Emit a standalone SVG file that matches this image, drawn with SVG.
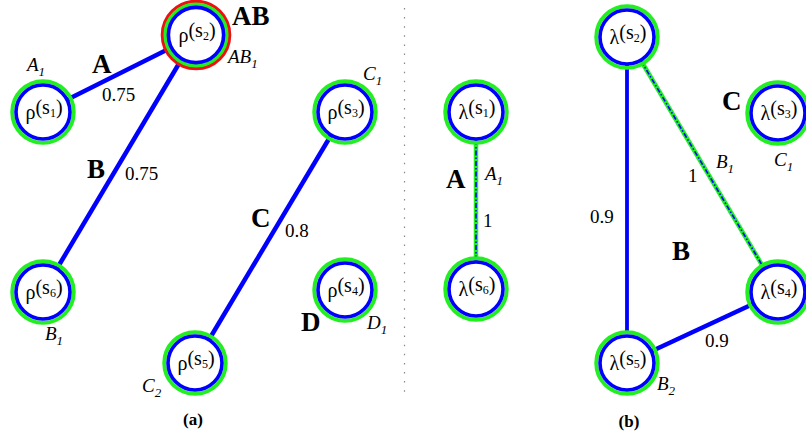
<svg xmlns="http://www.w3.org/2000/svg" width="806" height="437" viewBox="0 0 806 437">
<style>
text{font-family:"Liberation Serif","Times New Roman",serif;fill:#000}
.nt{font-size:20px;text-anchor:middle}
.sub{font-size:12px}
.lb{font-size:27px;font-weight:bold}
.it{font-size:19px;font-style:italic}
.it .sub{font-size:13px}
.num{font-size:19px}
.cap{font-size:17px;font-weight:bold;text-anchor:middle}
.ring-b{fill:#fff;stroke:#0000ff;stroke-width:3.6}
.ring-g{fill:none;stroke:#22ee22;stroke-width:3.9}
.ring-r{fill:none;stroke:#ee1111;stroke-width:3.4}
.e{stroke:#0000ff;stroke-width:4.5;stroke-linecap:butt;fill:none}
.eg{stroke:#22ee22;stroke-width:4.5;fill:none}
.ed{stroke:#0000ff;stroke-width:1.6;stroke-dasharray:5 2 1.5 2;fill:none}
</style>
<line x1="404.5" y1="8" x2="404.5" y2="398" stroke="#888" stroke-width="1.2" stroke-dasharray="1.5 7.6"/>
<g id="connectors">
<line class="e" x1="68" y1="99.3" x2="171" y2="47.7"/>
<line class="e" x1="181.7" y1="59" x2="57.3" y2="268"/>
<line class="e" x1="330.6" y1="136" x2="209.4" y2="339"/>
<line class="eg" x1="476" y1="140" x2="476" y2="261"/>
<line class="ed" x1="476" y1="140" x2="476" y2="261"/>
<line class="eg" x1="641.2" y1="61" x2="763.8" y2="268"/>
<line class="ed" x1="641.2" y1="61" x2="763.8" y2="268"/>
<line class="e" style="stroke-width:3.8" x1="627" y1="65" x2="627" y2="331"/>
<line class="e" x1="652" y1="351" x2="753" y2="304"/>
</g>
<g id="rho1"><circle class="ring-g" cx="43" cy="112" r="30.8"/><circle class="ring-b" cx="43" cy="112" r="27"/>
<text class="nt" x="44" y="119">ρ<tspan dy="-5">(s</tspan><tspan class="sub" dy="3">1</tspan><tspan dy="-3">)</tspan></text></g>
<g id="rho2"><circle class="ring-r" cx="196" cy="35" r="33.6"/><circle class="ring-g" cx="196" cy="35" r="30.6"/><circle class="ring-b" cx="196" cy="35" r="27.6"/>
<text class="nt" x="197" y="42">ρ<tspan dy="-5">(s</tspan><tspan class="sub" dy="3">2</tspan><tspan dy="-3">)</tspan></text></g>
<g id="rho3"><circle class="ring-g" cx="345" cy="112" r="30.8"/><circle class="ring-b" cx="345" cy="112" r="27"/>
<text class="nt" x="346" y="119">ρ<tspan dy="-5">(s</tspan><tspan class="sub" dy="3">3</tspan><tspan dy="-3">)</tspan></text></g>
<g id="rho4"><circle class="ring-g" cx="345" cy="290" r="30.8"/><circle class="ring-b" cx="345" cy="290" r="27"/>
<text class="nt" x="346" y="297">ρ<tspan dy="-5">(s</tspan><tspan class="sub" dy="3">4</tspan><tspan dy="-3">)</tspan></text></g>
<g id="rho5"><circle class="ring-g" cx="195" cy="363" r="30.8"/><circle class="ring-b" cx="195" cy="363" r="27"/>
<text class="nt" x="196" y="370">ρ<tspan dy="-5">(s</tspan><tspan class="sub" dy="3">5</tspan><tspan dy="-3">)</tspan></text></g>
<g id="rho6"><circle class="ring-g" cx="43" cy="292" r="30.8"/><circle class="ring-b" cx="43" cy="292" r="27"/>
<text class="nt" x="44" y="299">ρ<tspan dy="-5">(s</tspan><tspan class="sub" dy="3">6</tspan><tspan dy="-3">)</tspan></text></g>
<g id="lam1"><circle class="ring-g" cx="476" cy="112" r="30.8"/><circle class="ring-b" cx="476" cy="112" r="27"/>
<text class="nt" x="477" y="119">λ<tspan dy="-5">(s</tspan><tspan class="sub" dy="3">1</tspan><tspan dy="-3">)</tspan></text></g>
<g id="lam2"><circle class="ring-g" cx="627" cy="37" r="30.8"/><circle class="ring-b" cx="627" cy="37" r="27"/>
<text class="nt" x="628" y="44">λ<tspan dy="-5">(s</tspan><tspan class="sub" dy="3">2</tspan><tspan dy="-3">)</tspan></text></g>
<g id="lam3"><circle class="ring-g" cx="778" cy="113" r="30.8"/><circle class="ring-b" cx="778" cy="113" r="27"/>
<text class="nt" x="779" y="120">λ<tspan dy="-5">(s</tspan><tspan class="sub" dy="3">3</tspan><tspan dy="-3">)</tspan></text></g>
<g id="lam4"><circle class="ring-g" cx="778" cy="292" r="30.8"/><circle class="ring-b" cx="778" cy="292" r="27"/>
<text class="nt" x="779" y="299">λ<tspan dy="-5">(s</tspan><tspan class="sub" dy="3">4</tspan><tspan dy="-3">)</tspan></text></g>
<g id="lam5"><circle class="ring-g" cx="627" cy="363" r="30.8"/><circle class="ring-b" cx="627" cy="363" r="27"/>
<text class="nt" x="628" y="370">λ<tspan dy="-5">(s</tspan><tspan class="sub" dy="3">5</tspan><tspan dy="-3">)</tspan></text></g>
<g id="lam6"><circle class="ring-g" cx="476" cy="289" r="30.8"/><circle class="ring-b" cx="476" cy="289" r="27"/>
<text class="nt" x="477" y="296">λ<tspan dy="-5">(s</tspan><tspan class="sub" dy="3">6</tspan><tspan dy="-3">)</tspan></text></g>
<g id="labels">
<text class="lb" x="92" y="73">A</text>
<text class="it" x="27" y="71">A<tspan class="sub" dy="5">1</tspan></text>
<text class="num" x="102" y="101">0.75</text>
<text class="lb" x="87" y="178">B</text>
<text class="num" x="125" y="180">0.75</text>
<text class="lb" x="232" y="25">AB</text>
<text class="it" x="228" y="63">AB<tspan class="sub" dy="5">1</tspan></text>
<text class="it" x="363" y="80">C<tspan class="sub" dy="5">1</tspan></text>
<text class="lb" x="251" y="227">C</text>
<text class="num" x="285" y="237">0.8</text>
<text class="it" x="45" y="340">B<tspan class="sub" dy="5">1</tspan></text>
<text class="it" x="142" y="392">C<tspan class="sub" dy="5">2</tspan></text>
<text class="lb" x="301" y="331">D</text>
<text class="it" x="367" y="329">D<tspan class="sub" dy="5">1</tspan></text>
<text class="cap" x="193" y="425">(a)</text>
<text class="lb" x="446" y="188">A</text>
<text class="it" x="485" y="180">A<tspan class="sub" dy="5">1</tspan></text>
<text class="num" x="483" y="227">1</text>
<text class="num" x="688" y="182">1</text>
<text class="it" x="716" y="168">B<tspan class="sub" dy="5">1</tspan></text>
<text class="lb" x="722" y="110">C</text>
<text class="it" x="774" y="166">C<tspan class="sub" dy="5">1</tspan></text>
<text class="num" x="590" y="223">0.9</text>
<text class="lb" x="672" y="260">B</text>
<text class="num" x="705" y="347">0.9</text>
<text class="it" x="657" y="390">B<tspan class="sub" dy="5">2</tspan></text>
<text class="cap" x="629" y="427">(b)</text>
</g>
</svg>
